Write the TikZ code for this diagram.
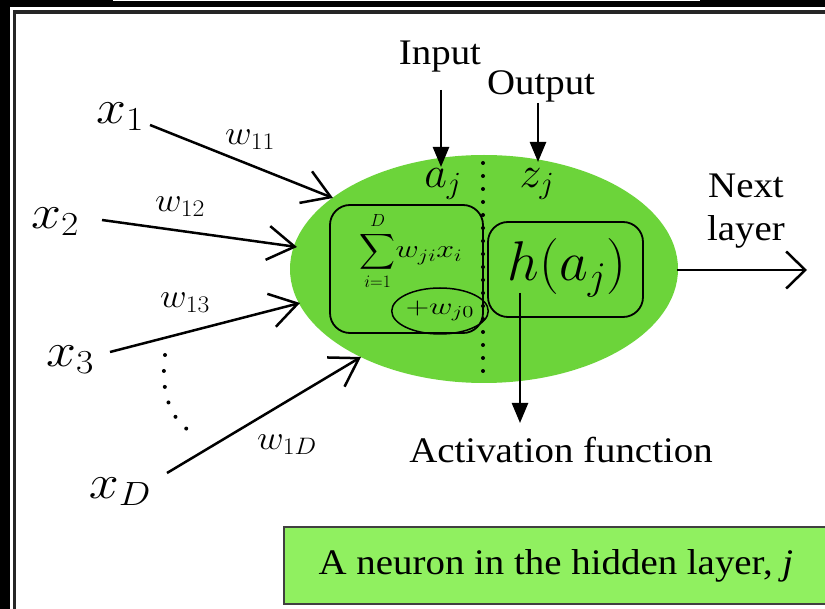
\RequirePackage{fix-cm}
\documentclass[tikz,border=0pt]{standalone}
\usepackage{exscale}
\usepackage{fontspec}
\setmainfont{Liberation Serif}
\usepackage{graphicx}
\usetikzlibrary{arrows.meta,shapes.geometric}
\definecolor{neurongreen}{RGB}{108,212,58}
\definecolor{boxgreen}{RGB}{144,240,96}
\newcommand\hstretch[2]{\scalebox{#1}[1]{#2}}
\begin{document}
\begin{tikzpicture}[x=1pt,y=-1pt,
  txt/.style={font=\fontsize{36}{43}\selectfont, inner sep=0pt},
  bigmath/.style={font=\fontsize{48}{52}\selectfont, inner sep=0pt},
  wmath/.style={font=\fontsize{34}{40}\selectfont, inner sep=0pt},
  inarrow/.style={line width=2.5pt, -{Straight Barb[length=27pt,width=34pt]}},
  fillarrow/.style={line width=2.5pt, -{Triangle[length=20pt,width=16pt]}},
  roundbox/.style={draw=black, line width=1.8pt, rounded corners=20pt, inner sep=0pt},
  dotline/.style={line width=4pt, line cap=round, dash pattern=on 0pt off #1},
]
\useasboundingbox (0,0) rectangle (825,609);
% frame
\fill[black] (0,0) rectangle (825,609);
\fill[white] (10,7) rectangle (825,609);
\draw[white, line width=1.5pt] (113,0.75) -- (700,0.75);
\draw[black!85, line width=3.5pt] (14.5,609) -- (14.5,12) -- (825,12);

% neuron body
\node[ellipse, fill=neurongreen, minimum width=388pt, minimum height=228pt, inner sep=0pt] (neuron) at (484,269) {};

% dotted divider
\coordinate (divtop) at (483,163);
\coordinate (divbot) at (483,378);
\draw[dotline=13pt] (divtop) -- (divbot);

% sum box
\node[roundbox, minimum width=153pt, minimum height=128pt] (sumbox) at (406.5,269) {};
\node[inner sep=0pt, font=\fontsize{25}{29}\selectfont] (sumtext) at (411,251)
  {$\displaystyle\sum_{i=1}^{D}$\hstretch{1.28}{$w_{ji}x_i$}};
\node[draw, ellipse, line width=1.5pt, minimum width=84pt, minimum height=46pt, inner sep=0pt,
  font=\fontsize{24}{28}\selectfont] (bias) at (440,311) {\hstretch{1.35}{$+w_{j0}$}};

% activation box
\node[roundbox, minimum width=155pt, minimum height=95pt] (hbox) at (565.5,269.5) {};
\node[inner sep=0pt, font=\fontsize{56}{60}\selectfont] (htext) at (567,268) {$h(a_j)$};

% a_j, z_j
\node[inner sep=0pt, font=\fontsize{44}{48}\selectfont] (aj) at (443,184) {$a_j$};
\node[inner sep=0pt, font=\fontsize{44}{48}\selectfont] (zj) at (537,184) {$z_j$};

% Input / Output labels
\node[txt] (input) at (440,57) {\hstretch{1.08}{Input}};
\node[txt] (output) at (541,86) {\hstretch{1.08}{Output}};
\coordinate (inStart) at (441,90);
\coordinate (inTip) at (441,167);
\coordinate (outStart) at (538,103);
\coordinate (outTip) at (538,162);
\draw[fillarrow] (inStart) -- (inTip);
\draw[fillarrow] (outStart) -- (outTip);

% activation function
\node[txt] (actlabel) at (561,450) {\hstretch{1.08}{Activation function}};
\coordinate (actStart) at (520,293);
\coordinate (actTip) at (520,423);
\draw[fillarrow] (actStart) -- (actTip);

% next layer
\node[txt] (next) at (746,210) {\hstretch{1.08}{\begin{tabular}{@{}c@{}}Next\\layer\end{tabular}}};
\coordinate (nextStart) at (677,270);
\coordinate (nextTip) at (807,270);
\draw[line width=2.5pt, -{Straight Barb[length=19pt,width=37pt]}] (nextStart) -- (nextTip);

% inputs
\node[bigmath] (x1) at (120,117) {\hstretch{1.12}{$x_1$}};
\node[bigmath] (x2) at (55,222) {\hstretch{1.12}{$x_2$}};
\node[bigmath] (x3) at (70,360) {\hstretch{1.12}{$x_3$}};
\node[bigmath] (xD) at (120,492) {\hstretch{1.12}{$x_D$}};

\coordinate (a1s) at (150,125);  \coordinate (a1t) at (333,198);
\coordinate (a2s) at (102,220);  \coordinate (a2t) at (297,247);
\coordinate (a3s) at (110,352);  \coordinate (a3t) at (300,303);
\coordinate (aDs) at (167,473);  \coordinate (aDt) at (361,357);
\draw[inarrow] (a1s) -- (a1t);
\draw[inarrow] (a2s) -- (a2t);
\draw[inarrow] (a3s) -- (a3t);
\draw[inarrow] (aDs) -- (aDt);

% weights
\node[wmath] (w11) at (250,140) {\hstretch{1.08}{$w_{11}$}};
\node[wmath] (w12) at (180,207) {\hstretch{1.08}{$w_{12}$}};
\node[wmath] (w13) at (185,303) {\hstretch{1.08}{$w_{13}$}};
\node[wmath] (w1D) at (287,445) {\hstretch{1.08}{$w_{1D}$}};

% dotted arc between x3 and xD
\coordinate (arcA) at (165,355);
\coordinate (arcB) at (191,432);
\draw[dotline=16pt] (arcA) .. controls (160,395) and (172,420) .. (arcB);

% caption box
\node[draw=black!75, fill=boxgreen, line width=1.5pt, minimum width=560pt, minimum height=77pt,
  anchor=north west, inner sep=0pt] (caption) at (283,526) {};
\node[txt] (captext) at (556,566) {\hstretch{1.08}{A neuron in the hidden layer, \textit{j}}};
\end{tikzpicture}
\end{document}
